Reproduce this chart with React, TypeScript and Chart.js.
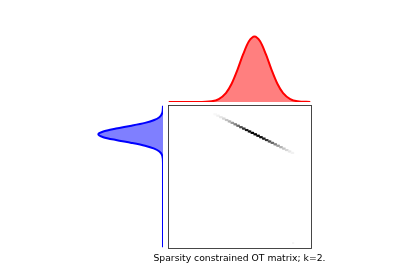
import React, { useEffect, useRef } from "react";
import { Chart, registerables } from "chart.js";

Chart.register(...registerables);

// Target distribution (top, red): sample index -> normalized value
const redX = [0, 20, 30, 35, 40, 44, 48, 52, 56, 60, 64, 68, 72, 76, 80, 85, 90, 99];
const redY = [0, 0.0003, 0.011, 0.044, 0.135, 0.278, 0.487, 0.726, 0.923, 1, 0.923, 0.726, 0.487, 0.278, 0.135, 0.044, 0.011, 0.0001];

// Source distribution (left, blue): sample index -> normalized value
const blueIdx = [0, 5, 8, 10, 12, 14, 16, 18, 20, 22, 24, 26, 28, 30, 32, 35, 40, 99];
const blueVal = [0, 0.011, 0.056, 0.135, 0.278, 0.487, 0.726, 0.923, 1, 0.923, 0.726, 0.487, 0.278, 0.135, 0.056, 0.011, 0.0003, 0];

// Sparse OT matrix non-zero cells (row, column, relative mass)
const cellRow = [6, 6, 7, 7, 8, 8, 9, 9, 10, 10, 11, 11, 12, 12, 13, 13, 14, 14, 15, 15, 16, 16, 17, 17, 18, 18, 19, 19, 20, 20, 21, 21, 22, 22, 23, 23, 24, 24, 25, 25, 26, 26, 27, 27, 28, 28, 29, 29, 30, 30, 31, 31, 32, 32, 33, 33, 96];
const cellCol = [32, 33, 34, 35, 36, 37, 38, 39, 40, 41, 42, 43, 44, 45, 46, 47, 48, 49, 50, 51, 52, 53, 54, 55, 56, 57, 58, 59, 60, 61, 62, 63, 64, 65, 66, 67, 68, 69, 70, 71, 72, 73, 74, 75, 76, 77, 78, 79, 80, 81, 82, 83, 84, 85, 86, 87, 87];
const cellVal = [0.03, 0.03, 0.06, 0.06, 0.1, 0.1, 0.16, 0.16, 0.23, 0.23, 0.31, 0.31, 0.4, 0.4, 0.5, 0.5, 0.6, 0.6, 0.7, 0.7, 0.8, 0.8, 0.9, 0.9, 0.96, 0.96, 1, 1, 1, 1, 1, 1, 0.96, 0.96, 0.9, 0.9, 0.8, 0.8, 0.7, 0.7, 0.6, 0.6, 0.5, 0.5, 0.4, 0.4, 0.31, 0.31, 0.23, 0.23, 0.16, 0.16, 0.1, 0.1, 0.05, 0.05, 0.04];

const titleText = "Sparsity constrained OT matrix; k=2.";

function grayR(v: number): string {
  const g = Math.round(255 * (1 - Math.max(0, Math.min(1, v))));
  return `rgb(${g},${g},${g})`;
}

const frame = {
  id: "frame",
  afterDraw(chart: any) {
    const { ctx, chartArea } = chart;
    ctx.save();
    ctx.strokeStyle = "#333";
    ctx.lineWidth = 0.9;
    ctx.strokeRect(chartArea.left + 0.5, chartArea.top + 0.5, chartArea.right - chartArea.left, chartArea.bottom - chartArea.top);
    ctx.restore();
  },
};

export default function App() {
  const redRef = useRef<HTMLCanvasElement>(null);
  const blueRef = useRef<HTMLCanvasElement>(null);
  const matRef = useRef<HTMLCanvasElement>(null);

  useEffect(() => {
    const charts: Chart[] = [];

    charts.push(
      new Chart(matRef.current!, {
        type: "scatter",
        data: {
          datasets: [
            {
              data: cellRow.map((r, i) => ({ x: cellCol[i], y: r, v: cellVal[i] })) as any,
              pointStyle: "rect",
              pointRadius: 1.5,
              borderWidth: 0,
              backgroundColor: (c: any) => grayR(c.raw ? c.raw.v : 0),
            } as any,
          ],
        },
        options: {
          animation: false,
          responsive: false,
          layout: { padding: { left: 8, right: 9, top: 8, bottom: 9 } },
          plugins: { legend: { display: false }, tooltip: { enabled: false } },
          scales: {
            x: { type: "linear", display: false, min: -0.5, max: 99.5 },
            y: { type: "linear", display: false, min: -0.5, max: 99.5, reverse: true },
          },
        },
        plugins: [frame],
      })
    );

    charts.push(
      new Chart(redRef.current!, {
        type: "line",
        data: {
          datasets: [
            {
              data: redX.map((x, i) => ({ x, y: redY[i] })),
              borderColor: "rgb(255,0,0)",
              borderWidth: 2,
              backgroundColor: "rgba(255,0,0,0.5)",
              fill: "origin",
              pointRadius: 0,
              cubicInterpolationMode: "monotone",
            },
          ],
        },
        options: {
          animation: false,
          responsive: false,
          layout: { padding: { left: 8, right: 9, top: 5, bottom: 8 } },
          plugins: { legend: { display: false }, tooltip: { enabled: false } },
          scales: {
            x: { type: "linear", display: false, min: -0.5, max: 99.5 },
            y: { type: "linear", display: false, min: 0, max: 1.1 },
          },
        },
      })
    );

    charts.push(
      new Chart(blueRef.current!, {
        type: "line",
        data: {
          datasets: [
            {
              data: blueIdx.map((y, i) => ({ x: blueVal[i], y })),
              borderColor: "rgb(0,0,255)",
              borderWidth: 2,
              backgroundColor: "rgba(0,0,255,0.5)",
              fill: "origin",
              pointRadius: 0,
              cubicInterpolationMode: "monotone",
            },
          ],
        },
        options: {
          indexAxis: "y",
          animation: false,
          responsive: false,
          layout: { padding: { left: 9, right: 9, top: 8, bottom: 9 } },
          plugins: { legend: { display: false }, tooltip: { enabled: false } },
          scales: {
            x: { type: "linear", display: false, min: 0, max: 1.144, reverse: true },
            y: { type: "linear", display: false, min: -0.5, max: 99.5, reverse: true },
          },
        },
      })
    );

    return () => charts.forEach((c) => c.destroy());
  }, []);

  return (
    <div style={{ position: "absolute", left: 0, top: 0, width: 400, height: 280, background: "#fff" }}>
      <canvas ref={matRef} width={160} height={160} style={{ position: "absolute", left: 160, top: 97, width: 160, height: 160 }} />
      <canvas ref={redRef} width={160} height={85} style={{ position: "absolute", left: 160, top: 25, width: 160, height: 85 }} />
      <canvas ref={blueRef} width={92} height={160} style={{ position: "absolute", left: 80, top: 97, width: 92, height: 160 }} />
      <div
        style={{
          position: "absolute",
          left: 120,
          top: 252,
          width: 239,
          textAlign: "center",
          fontFamily: "'DejaVu Sans'",
          fontSize: 9.25,
          lineHeight: "11px",
          color: "#000",
          whiteSpace: "nowrap",
        }}
      >
        {titleText}
      </div>
    </div>
  );
}
